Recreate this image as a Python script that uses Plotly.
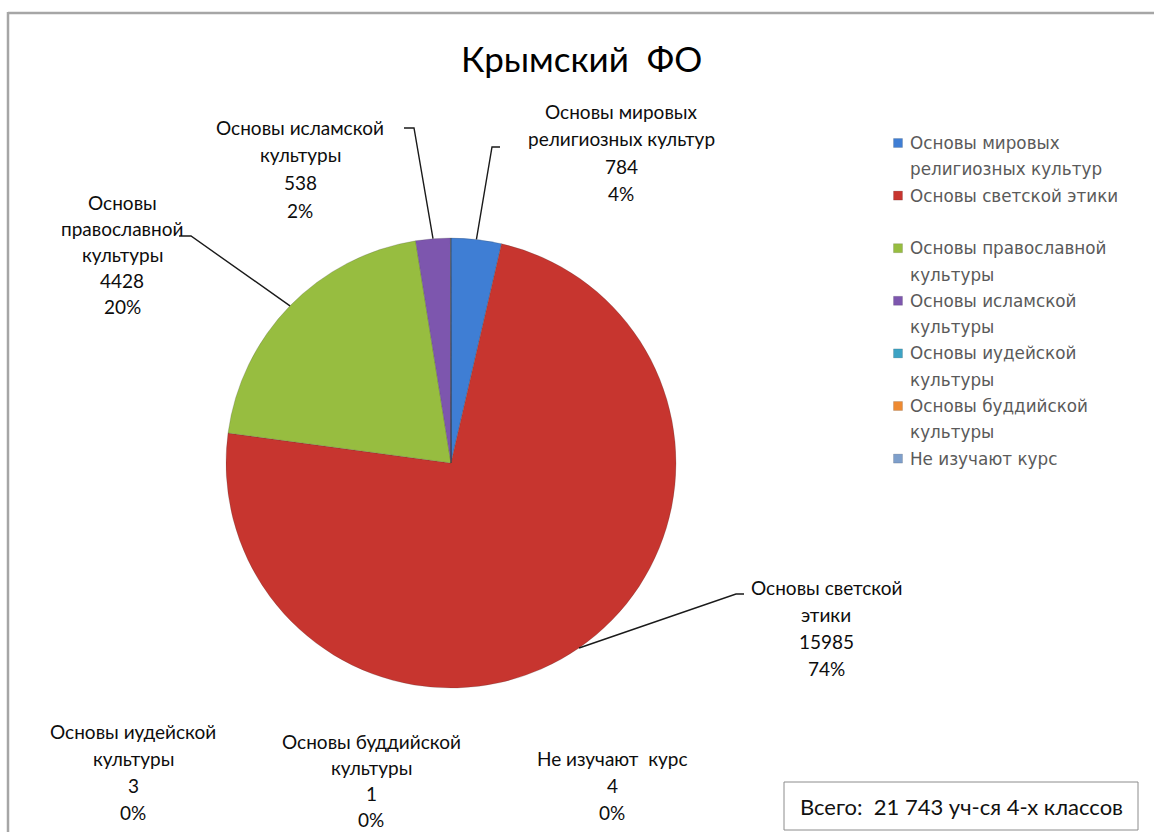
import math
import plotly.graph_objects as go

# ---------------- data ----------------
categories = [
    "Основы мировых религиозных культур",
    "Основы светской этики",
    "Основы православной культуры",
    "Основы исламской культуры",
    "Основы иудейской культуры",
    "Основы буддийской культуры",
    "Не изучают курс",
]
values = [784, 15985, 4428, 538, 3, 1, 4]
label_lines = [
    ["Основы мировых", "религиозных культур"],
    ["Основы светской", "этики"],
    ["Основы", "православной", "культуры"],
    ["Основы исламской", "культуры"],
    ["Основы иудейской", "культуры"],
    ["Основы буддийской", "культуры"],
    ["Не изучают  курс"],
]
legend_lines = [
    ["Основы мировых", "религиозных культур"],
    ["Основы светской этики", ""],
    ["Основы православной", "культуры"],
    ["Основы исламской", "культуры"],
    ["Основы иудейской", "культуры"],
    ["Основы буддийской", "культуры"],
    ["Не изучают курс"],
]
title_text = "Крымский  ФО"
total_text = "Всего:  21 743 уч-ся 4-х классов"

colors = ["#3F7ED4", "#C7352F", "#97BD40", "#7D56AE", "#3DA3C4", "#EE8A32", "#7E9FCB"]

# ---------------- layout helpers ----------------
W, H = 1154, 832
def px(x):
    return x / W
def py(y):
    return 1 - y / H

CX, CY, R = 451, 463, 225

# label layout: (center x, first line y, line spacing, leader tick (x0,x1,y) or None)
label_pos = [
    (621, 111, 27.5, (500, 492, 147)),
    (826, 587, 27.0, (744, 736, 594)),
    (122, 202, 26.0, (179, 191, 236)),
    (300, 127, 27.7, (404, 414, 128)),
    (133, 731, 27.0, None),
    (371, 741, 26.0, None),
    (612, 758, 27.0, None),
]

total = sum(values)

fig = go.Figure()
fig.add_trace(go.Pie(
    labels=categories,
    values=values,
    sort=False,
    direction="clockwise",
    rotation=0,
    marker=dict(colors=colors, line=dict(color="rgba(60,60,60,0.35)", width=0.6)),
    textinfo="none",
    hoverinfo="label+value+percent",
    showlegend=False,
    domain=dict(x=[px(CX - R), px(CX + R)], y=[py(CY + R), py(CY - R)]),
))

annotations = []
shapes = []

label_font = dict(family="Lato, Carlito, 'Open Sans', sans-serif", size=19, color="#0d0d0d")

cum = 0
for i, v in enumerate(values):
    mid = (cum + v / 2) / total
    cum += v
    lx, ly, sp, tick = label_pos[i]
    pct = round(v / total * 100)
    lines = label_lines[i] + [f"{v}", f"{pct}%"]
    for k, t in enumerate(lines):
        annotations.append(dict(
            x=px(lx), y=py(ly + k * sp), xref="paper", yref="paper",
            text=t, showarrow=False, xanchor="center", yanchor="middle",
            font=label_font,
        ))
    if tick is not None:
        ang = 2 * math.pi * mid
        ex = CX + R * math.sin(ang)
        ey = CY - R * math.cos(ang)
        x0, x1, ty = tick
        path = f"M {px(x0)},{py(ty)} L {px(x1)},{py(ty)} L {px(ex)},{py(ey)}"
        shapes.append(dict(type="path", xref="paper", yref="paper", path=path,
                           line=dict(color="#1a1a1a", width=1.4)))

# legend (drawn manually to match line spacing)
leg_x_sw, leg_x_txt, leg_y0, leg_sp, sw = 898, 908, 143, 26.3, 9
row = 0
legend_font = dict(family="'DejaVu Sans', Verdana, sans-serif", size=16.8, color="#5a5a5a")
for i, lines in enumerate(legend_lines):
    yy = leg_y0 + row * leg_sp
    shapes.append(dict(type="rect", xref="paper", yref="paper",
                       x0=px(leg_x_sw - sw / 2), x1=px(leg_x_sw + sw / 2),
                       y0=py(yy + sw / 2), y1=py(yy - sw / 2),
                       fillcolor=colors[i], line=dict(color="rgba(0,0,0,0.25)", width=0.5)))
    for t in lines:
        yy = leg_y0 + row * leg_sp
        if t:
            annotations.append(dict(
                x=px(leg_x_txt), y=py(yy), xref="paper", yref="paper",
                text=t, showarrow=False, xanchor="left", yanchor="middle",
                font=legend_font,
            ))
        row += 1

# title
annotations.append(dict(
    x=px(581), y=py(58), xref="paper", yref="paper", text=title_text,
    showarrow=False, xanchor="center", yanchor="middle",
    font=dict(family="Lato, Carlito, sans-serif", size=35, color="#000000"),
))

# total box
shapes.append(dict(type="rect", xref="paper", yref="paper",
                   x0=px(784), x1=px(1138), y0=py(830), y1=py(782),
                   fillcolor="white", line=dict(color="#8c8c8c", width=1)))
annotations.append(dict(
    x=px(961), y=py(806), xref="paper", yref="paper", text=total_text,
    showarrow=False, xanchor="center", yanchor="middle",
    font=dict(family="Lato, Carlito, sans-serif", size=22, color="#111111"),
))

# outer chart frame (top and left edges visible)
shapes.append(dict(type="line", xref="paper", yref="paper",
                   x0=px(8), x1=px(1154), y0=py(13), y1=py(13),
                   line=dict(color="#a6a6a6", width=2.5)))
shapes.append(dict(type="line", xref="paper", yref="paper",
                   x0=px(8), x1=px(8), y0=py(12), y1=py(832),
                   line=dict(color="#a6a6a6", width=2.5)))

fig.update_layout(
    width=W, height=H,
    margin=dict(l=0, r=0, t=0, b=0),
    paper_bgcolor="white", plot_bgcolor="white",
    annotations=annotations, shapes=shapes,
    showlegend=False,
)

fig.write_html(
    "out.html",
    config={"displayModeBar": False},
    post_script="document.body.style.margin='0px';document.body.style.overflow='hidden';",
)
